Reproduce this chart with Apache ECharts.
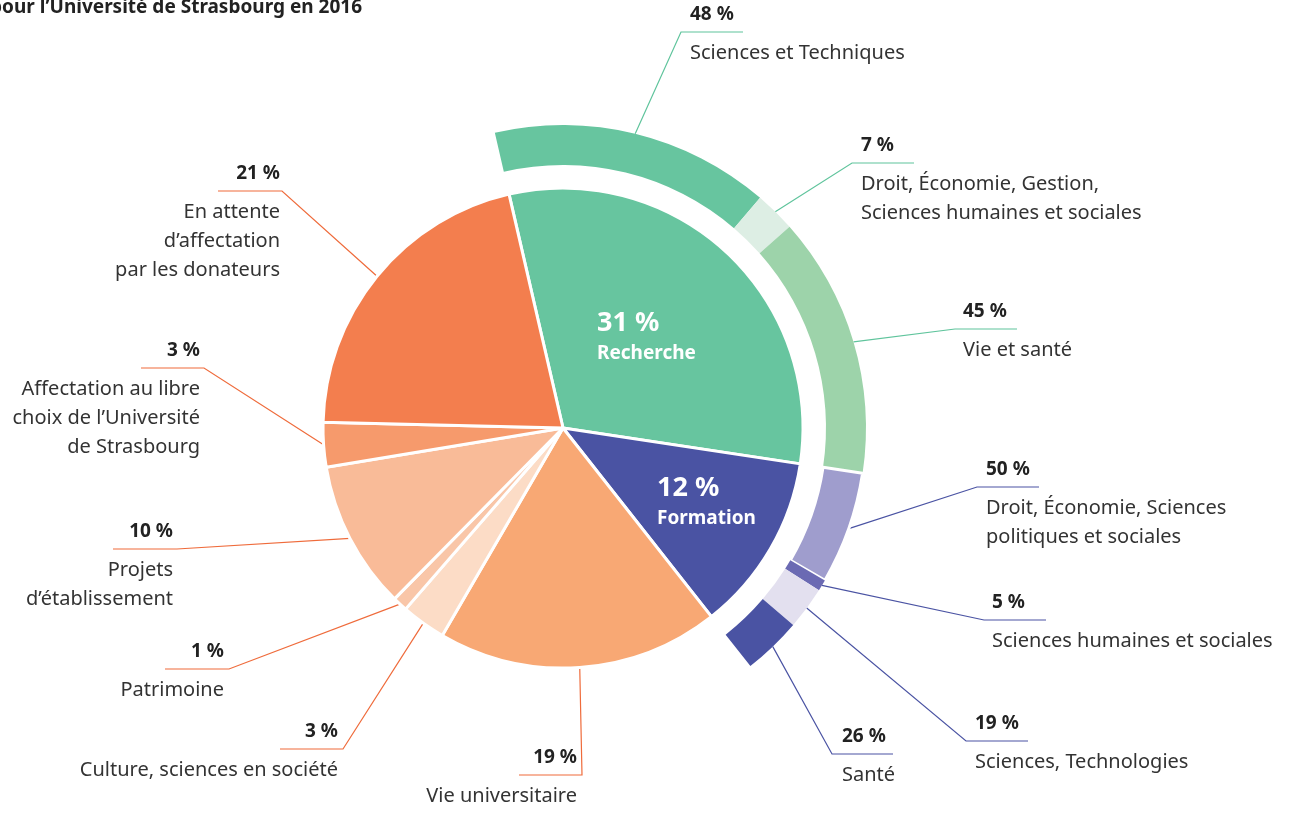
<!DOCTYPE html>
<html lang="fr">
<head>
<meta charset="utf-8">
<title>Dons Université de Strasbourg 2016</title>
<script src="https://cdn.jsdelivr.net/npm/echarts@6/dist/echarts.min.js"></script>
<style>
    html, body { margin: 0; padding: 0; background: #fff; }
    #chart { width: 1296px; height: 813px; }
</style>
</head>
<body>
<div id="chart"></div>
<script>
// affectation des dons, en % du total
const mainNames = ['Recherche', 'Formation', 'Vie universitaire', 'Culture, sciences en société', 'Patrimoine',
    'Projets d’établissement', 'Affectation au libre choix de l’Université de Strasbourg', 'En attente d’affectation par les donateurs']
const mainValues = [31, 12, 19, 3, 1, 10, 3, 21]
const mainLabels = ['Recherche', 'Formation', 'Vie universitaire', 'Culture, sciences en société', 'Patrimoine',
    'Projets\nd’établissement', 'Affectation au libre\nchoix de l’Université\nde Strasbourg', 'En attente\nd’affectation\npar les donateurs']

// détail Recherche (% de la part Recherche)
const rechLabels = ['Sciences et Techniques', 'Droit, Économie, Gestion,\nSciences humaines et sociales', 'Vie et santé']
const rechValues = [48, 7, 45]

// détail Formation (% de la part Formation)
const formLabels = ['Droit, Économie, Sciences\npolitiques et sociales', 'Sciences humaines et sociales', 'Sciences, Technologies', 'Santé']
const formValues = [50, 5, 19, 26]

const FONT = 'Noto Sans'
const mainColors = ['#67c59f', '#4a53a3', '#f8a874', '#fcdcc6', '#f9c6a8', '#f9bb98', '#f69a6c', '#f37e4e']
const rechColors = ['#67c59f', '#ddeee4', '#9dd3aa']
const formColors = ['#9f9dcd', '#6b6ab3', '#e3e0ef', '#4a53a3']
const orangeLine = '#ef6b3b'
const greenLine = '#5fc49c'
const blueLine = '#4a53a3'

// [coude x, y du trait, fin du trait x, x du texte]
const mainSpots = [null, null,
    [582, 775, 519, 577], [343, 749, 280, 338], [229, 669, 165, 224],
    [177, 549, 113, 173], [204, 368, 141, 200], [282, 191, 218, 280]]
const ringSpots = [
    [681, 32, 743, 690], [852, 163, 914, 861], [955, 329, 1017, 963],
    [977, 487, 1039, 986], [984, 620, 1046, 992], [966, 741, 1028, 975], [832, 754, 893, 842],
    null]
const insideSpots = [[597, 307], [657, 472]]

const sideAlign = s => (s && s[2] > s[0] ? 'left' : 'right')
const sideLabel = s => {
    const a = sideAlign(s)
    return { align: a, rich: { p: { align: a }, t: { align: a } } }
}

const innerData = mainNames.map((name, i) => {
    const item = {
        name,
        value: mainValues[i],
        pct: mainValues[i],
        text: mainLabels[i],
        itemStyle: { color: mainColors[i] }
    }
    if (i < 2) {
        item.label = {
            position: 'inside',
            formatter: '{big|{c} %}\n{small|{b}}',
            rich: {
                big: { fontFamily: FONT, fontWeight: 'bold', fontSize: 27, color: '#fff', lineHeight: 32 },
                small: { fontFamily: FONT, fontWeight: 'bold', fontSize: 19, color: '#fff', lineHeight: 30 }
            }
        }
        item.labelLine = { show: false }
    } else {
        item.label = sideLabel(mainSpots[i])
        item.labelLine = { lineStyle: { color: orangeLine } }
    }
    return item
})

const ringData = []
rechValues.forEach((v, i) => {
    ringData.push({
        name: 'R' + i, value: mainValues[0] * v / 100, pct: v, text: rechLabels[i],
        itemStyle: { color: rechColors[i] },
        label: sideLabel(ringSpots[ringData.length]),
        labelLine: { lineStyle: { color: greenLine } }
    })
})
formValues.forEach((v, i) => {
    ringData.push({
        name: 'F' + i, value: mainValues[1] * v / 100, pct: v, text: formLabels[i],
        itemStyle: i === 0
            ? { color: formColors[i], borderColor: '#fff', borderWidth: 3 }
            : { color: formColors[i] },
        label: sideLabel(ringSpots[ringData.length]),
        labelLine: { lineStyle: { color: blueLine } }
    })
})
// reste (affectations sans détail), invisible
ringData.push({
    name: 'reste',
    value: mainValues.slice(2).reduce((a, b) => a + b, 0),
    itemStyle: { color: 'rgba(0,0,0,0)' },
    label: { show: false },
    labelLine: { show: false }
})

function layoutFor(spots, inside) {
    return params => {
        if (inside && inside[params.dataIndex]) {
            const p = inside[params.dataIndex]
            return { x: p[0], y: p[1], align: 'left', verticalAlign: 'top' }
        }
        const s = spots[params.dataIndex]
        if (!s) return {}
        const [bx, uy, ex, tx] = s
        const start = params.labelLinePoints ? params.labelLinePoints[0] : [bx, uy]
        return {
            x: tx,
            y: uy - 41,
            align: sideAlign(s),
            verticalAlign: 'top',
            labelLinePoints: [start, [bx, uy], [ex, uy]]
        }
    }
}

const outsideLabel = {
    show: true,
    position: 'outside',
    overflow: 'none',
    formatter: p => `{p|${p.data.pct} %}\n{t|${p.data.text}}`,
    rich: {
        p: { fontFamily: FONT, fontWeight: 'bold', fontSize: 19, color: '#222', lineHeight: 48 },
        t: { fontFamily: FONT, fontSize: 20, color: '#333', lineHeight: 29 }
    }
}

const chart = echarts.init(document.getElementById('chart'))

const option = {
    backgroundColor: '#fff',
    animation: false,
    title: {
        text: 'Répartition des dons pour l’Université de Strasbourg en 2016',
        right: 934,
        top: -2,
        padding: 0,
        textStyle: { fontFamily: FONT, fontWeight: 'bold', fontSize: 19, color: '#222' }
    },
    series: [
        {
            name: 'affectation',
            type: 'pie',
            center: [563, 428],
            radius: [0, 240],
            startAngle: 103,
            avoidLabelOverlap: false,
            itemStyle: { borderColor: '#fff', borderWidth: 3 },
            label: outsideLabel,
            labelLine: { show: true, lineStyle: { width: 1.2 } },
            labelLayout: layoutFor(mainSpots, insideSpots),
            emphasis: { disabled: true },
            data: innerData
        },
        {
            name: 'détail',
            type: 'pie',
            center: [563, 428],
            radius: [263, 303],
            startAngle: 103,
            avoidLabelOverlap: false,
            label: outsideLabel,
            labelLine: { show: true, lineStyle: { width: 1.2 } },
            labelLayout: layoutFor(ringSpots),
            emphasis: { disabled: true },
            silent: true,
            data: ringData
        }
    ]
}

chart.setOption(option)

window.addEventListener('resize', () => {
    chart.resize()
})
</script>
</body>
</html>
